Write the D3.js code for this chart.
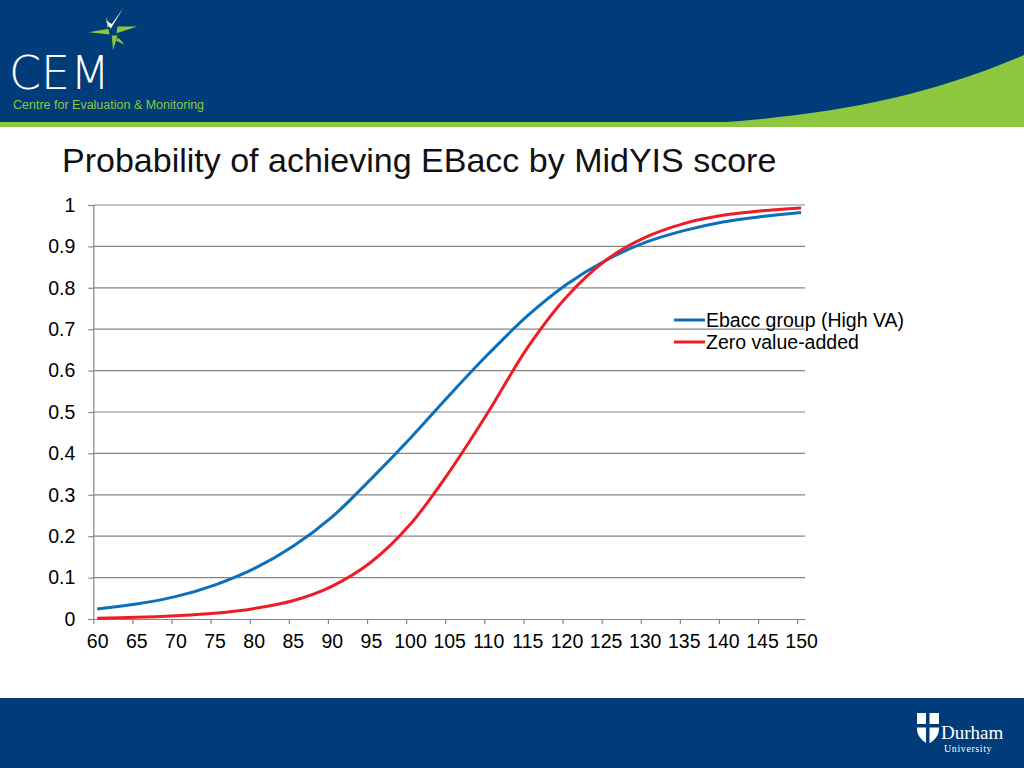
<!DOCTYPE html>
<html>
<head>
<meta charset="utf-8">
<script src="https://cdn.jsdelivr.net/npm/d3@7"></script>
<style>
  html, body { margin: 0; padding: 0; background: #fff; }
  svg { display: block; font-family: "Liberation Sans", Arial, sans-serif; }
</style>
</head>
<body>
<svg id="chart"></svg>
<script>
// MidYIS scores (category labels every 5 points)
const scores = [60, 65, 70, 75, 80, 85, 90, 95, 100, 105, 110, 115, 120, 125, 130, 135, 140, 145, 150];
const highVA = [0.024, 0.036, 0.054, 0.082, 0.121, 0.175, 0.246, 0.338, 0.436, 0.54, 0.64, 0.732, 0.808, 0.866, 0.909, 0.938, 0.959, 0.972, 0.982];
const zeroVA = [0.002, 0.004, 0.008, 0.014, 0.025, 0.044, 0.079, 0.137, 0.228, 0.355, 0.5, 0.655, 0.778, 0.866, 0.921, 0.955, 0.975, 0.986, 0.993];
const yTicks = [0, 0.1, 0.2, 0.3, 0.4, 0.5, 0.6, 0.7, 0.8, 0.9, 1];
const seriesNames = ['Ebacc group (High VA)', 'Zero value-added'];
const seriesColors = ['#0a6fbd', '#ee1c24'];

const W = 1024, H = 768;
const margin = {left: 93.3, right: 805, top: 205, bottom: 619};

const svg = d3.select('#chart').attr('width', W).attr('height', H);

// ---- slide header ----
const navy = '#003b7a', green = '#8dc63f';
svg.append('rect').attr('x', 0).attr('y', 0).attr('width', W).attr('height', 127).attr('fill', navy);
svg.append('rect').attr('x', 0).attr('y', 122).attr('width', W).attr('height', 5).attr('fill', green);
svg.append('path')
    .attr('d', 'M710,123 C820,116 920,100 1024,55 L1024,127 L710,127 Z')
    .attr('fill', green);

// CEM star mark
const star = svg.append('g').attr('transform', 'translate(113,31) scale(1.15)');
star.append('path').attr('d', 'M-21,1 L-4,-2 L-3,3 Z').attr('fill', green);
star.append('path').attr('d', 'M21,-4 L4,-4 L3,2 Z').attr('fill', green);
star.append('path').attr('d', 'M-1,4 L4,4 L0,17 Z').attr('fill', green);
star.append('path').attr('d', 'M-6,-12 L-2,-4 L-5,-3 Z').attr('fill', green);
star.append('path').attr('d', 'M-6,-9 L-2,-2 L9,-20 L-1,-6 Z').attr('fill', '#fff');
star.append('path').attr('d', 'M5,6 L10,12 L2,8 Z').attr('fill', green);

svg.append('text').attr('x', 9).attr('y', 89)
    .attr('font-family', '"DejaVu Sans", sans-serif').attr('font-weight', 300)
    .attr('font-size', 46).attr('fill', '#fff').attr('letter-spacing', 0).text('CEM');
svg.append('text').attr('x', 13).attr('y', 109)
    .attr('font-size', 12.5).attr('fill', green).text('Centre for Evaluation & Monitoring');

// ---- footer ----
svg.append('rect').attr('x', 0).attr('y', 698).attr('width', W).attr('height', 70).attr('fill', navy);
const shield = svg.append('g').attr('transform', 'translate(917,713)');
shield.append('path').attr('d', 'M0,0 L22,0 L22,16 C22,24 15,29 11,31 C7,29 0,24 0,16 Z').attr('fill', '#fff');
shield.append('rect').attr('x', 9).attr('y', 0).attr('width', 3.5).attr('height', 31).attr('fill', navy);
shield.append('rect').attr('x', 0).attr('y', 11).attr('width', 22).attr('height', 3.5).attr('fill', navy);
svg.append('text').attr('x', 941).attr('y', 739)
    .attr('font-family', '"Liberation Serif", serif').attr('font-size', 19).attr('fill', '#fff').text('Durham');
svg.append('text').attr('x', 944).attr('y', 752)
    .attr('font-family', '"Liberation Serif", serif').attr('font-size', 10).attr('fill', '#fff')
    .attr('letter-spacing', 0.6).text('University');

// ---- title ----
svg.append('text').attr('x', 62).attr('y', 172)
    .attr('font-size', 34).attr('fill', '#111')
    .text('Probability of achieving EBacc by MidYIS score');

// ---- scales ----
const x = d3.scaleLinear().domain([59.5, 150.5]).range([margin.left, margin.right]);
const y = d3.scaleLinear().domain([0, 1]).range([margin.bottom, margin.top]);

const axisColor = '#868686';
const tickFont = 19.5;

// gridlines
svg.append('g')
    .selectAll('line')
    .data(yTicks.slice(1))
    .join('line')
    .attr('x1', margin.left).attr('x2', margin.right)
    .attr('y1', d => y(d)).attr('y2', d => y(d))
    .attr('stroke', axisColor).attr('stroke-width', 1.2);

// y axis
const yAxis = svg.append('g')
    .attr('transform', `translate(${margin.left},0)`)
    .call(d3.axisLeft(y).tickValues(yTicks).tickSize(5).tickPadding(13).tickFormat(d3.format('~g')));
yAxis.select('.domain').attr('stroke', axisColor).attr('stroke-width', 1.2);
yAxis.selectAll('.tick line').attr('stroke', axisColor).attr('stroke-width', 1.2);
yAxis.selectAll('text').attr('font-size', tickFont).attr('fill', '#000')
    .attr('font-family', '"Liberation Sans", Arial, sans-serif');

// x axis: tick marks at category boundaries, labels at category centres
const bounds = scores.map(s => s - 0.5);
const xAxis = svg.append('g')
    .attr('transform', `translate(0,${margin.bottom})`)
    .call(d3.axisBottom(x).tickValues(bounds).tickSize(5).tickSizeOuter(0).tickFormat(''));
xAxis.select('.domain').attr('stroke', axisColor).attr('stroke-width', 1.2);
xAxis.selectAll('.tick line').attr('stroke', axisColor).attr('stroke-width', 1.2);

const xLabels = svg.append('g')
    .attr('transform', `translate(0,${margin.bottom})`)
    .call(d3.axisBottom(x).tickValues(scores).tickSize(0).tickPadding(15).tickFormat(d3.format('d')));
xLabels.select('.domain').remove();
xLabels.selectAll('text').attr('font-size', tickFont).attr('fill', '#000')
    .attr('font-family', '"Liberation Sans", Arial, sans-serif');

// ---- lines ----
const line = d3.line()
    .x((d, i) => x(scores[i]))
    .y(d => y(d))
    .curve(d3.curveCatmullRom.alpha(0.5));

[highVA, zeroVA].forEach((s, i) => {
    svg.append('path')
        .datum(s)
        .attr('d', line)
        .attr('fill', 'none')
        .attr('stroke', seriesColors[i])
        .attr('stroke-width', 3);
});

// ---- legend ----
const legend = svg.append('g').attr('transform', 'translate(674,320)');
seriesNames.forEach((name, i) => {
    legend.append('line')
        .attr('x1', 0).attr('x2', 31).attr('y1', i * 22).attr('y2', i * 22)
        .attr('stroke', seriesColors[i]).attr('stroke-width', 3);
    legend.append('text')
        .attr('x', 32).attr('y', i * 22 + 7)
        .attr('font-size', tickFont).attr('fill', '#000')
        .text(name);
});
</script>
</body>
</html>
